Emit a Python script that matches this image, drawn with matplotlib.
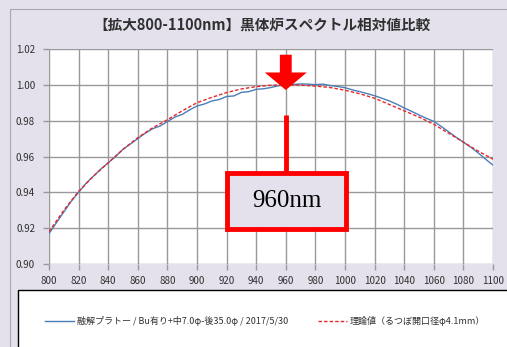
import matplotlib
matplotlib.use('Agg')
import matplotlib.pyplot as plt
from matplotlib.patches import Rectangle, FancyArrow

plt.rcParams['font.family'] = ['Noto Sans CJK JP', 'DejaVu Sans']

wl_meas = list(range(800, 1101, 5))
meas = [0.917, 0.923, 0.929, 0.935, 0.940, 0.945, 0.949, 0.953, 0.9565, 0.960,
        0.964, 0.967, 0.970, 0.973, 0.9755, 0.977, 0.9795, 0.982, 0.9835, 0.986,
        0.9882, 0.9893, 0.991, 0.9918, 0.9935, 0.9938, 0.9958, 0.9962, 0.9975, 0.9978,
        0.9985, 0.9995, 1.000, 1.0002, 1.0005, 1.0004, 1.0001, 1.0004, 0.9996, 0.9991,
        0.9984, 0.9972, 0.9962, 0.9951, 0.9939, 0.9925, 0.991, 0.9892, 0.9871, 0.9852,
        0.9832, 0.9813, 0.9796, 0.9768, 0.9738, 0.9708, 0.968, 0.9652, 0.962, 0.9585,
        0.9552]

# theoretical curve (red dashed), every 10 nm
wl_theo = list(range(800, 1101, 10))
theo = [0.918, 0.930, 0.9405, 0.949, 0.9565, 0.964, 0.9705, 0.976, 0.9805, 0.9855,
        0.990, 0.993, 0.9957, 0.9977, 0.999, 0.9998, 1.000, 0.9999, 0.9993, 0.9985,
        0.997, 0.995, 0.9925, 0.989, 0.9855, 0.982, 0.978, 0.973, 0.968, 0.963,
        0.9585]

label_meas = '融解プラトー / Bu有り+中7.0φ-後35.0φ / 2017/5/30'
label_theo = '理論値（るつぼ開口径φ4.1mm）'
title = '【拡大800-1100nm】黒体炉スペクトル相対値比較'
peak_nm = 960

bg = '#e4e1ec'
W, H = 507, 347
fig = plt.figure(figsize=(W / 100, H / 100), dpi=100, facecolor=bg)

# outer chart frame and legend box
fig.patches.append(Rectangle((10 / W, -0.1), 1.2, (347 - 9) / H + 0.1, transform=fig.transFigure,
                             facecolor='none', edgecolor='#a8a8b0', lw=0.8))
fig.patches.append(Rectangle((18 / W, -0.1), 1.2, (347 - 290) / H + 0.1, transform=fig.transFigure,
                             facecolor='white', edgecolor='black', lw=1.0))

ax = fig.add_axes([49 / W, (347 - 264) / H, (493 - 49) / W, (264 - 49) / H])
ax.set_facecolor('white')

ax.plot(wl_meas, meas, color='#4a7ebb', lw=1.0, label=label_meas, zorder=3)
ax.plot(wl_theo, theo, color='#e8262a', lw=1.0, ls=(0, (2.5, 1.5)), label=label_theo, zorder=4)

ax.set_xlim(800, 1100)
ax.set_ylim(0.90, 1.02)
ax.set_xticks(range(800, 1101, 20))
ax.set_yticks([0.90, 0.92, 0.94, 0.96, 0.98, 1.00, 1.02])
ax.set_yticklabels(['%.2f' % v for v in ax.get_yticks()])
ax.grid(True, color='#999999', lw=1.0)
for s in ax.spines.values():
    s.set_visible(False)
ax.tick_params(axis='both', length=4, width=1.0, color='#999999', labelsize=7, labelcolor='#303030')
ax.tick_params(axis='x', pad=5)
ax.tick_params(axis='y', pad=6)

fig.text(262 / W, 1 - 25 / H, title, ha='center', va='center', fontsize=10.5, fontweight='bold', color='#303030')

# peak marker
ax.add_patch(FancyArrow(peak_nm, 1.0168, 0, -0.0197, width=8.0,
                        head_width=42 / 1.48, head_length=0.0098, length_includes_head=True,
                        color='red', lw=0, zorder=6))
ax.plot([peak_nm, peak_nm], [0.9833, 0.9505], color='red', lw=3.5, solid_capstyle='butt', zorder=6)
ax.add_patch(Rectangle((920.5, 0.9195), 80.5, 0.0312, facecolor=bg, edgecolor='red', lw=3.5, zorder=6))
ax.text(960.7, 0.9352, '%dnm' % peak_nm, ha='center', va='center', fontsize=18,
        family='Liberation Serif', color='black', zorder=7)

h, l = ax.get_legend_handles_labels()
fig.legend(h, l, loc='center', bbox_to_anchor=(265 / W, 1 - 321 / H), ncol=2, frameon=False,
           fontsize=6.5, handlelength=3.2, columnspacing=3.3, handletextpad=0.3,
           labelcolor='#303030')

fig.savefig('out.png', dpi=100, facecolor=bg)
